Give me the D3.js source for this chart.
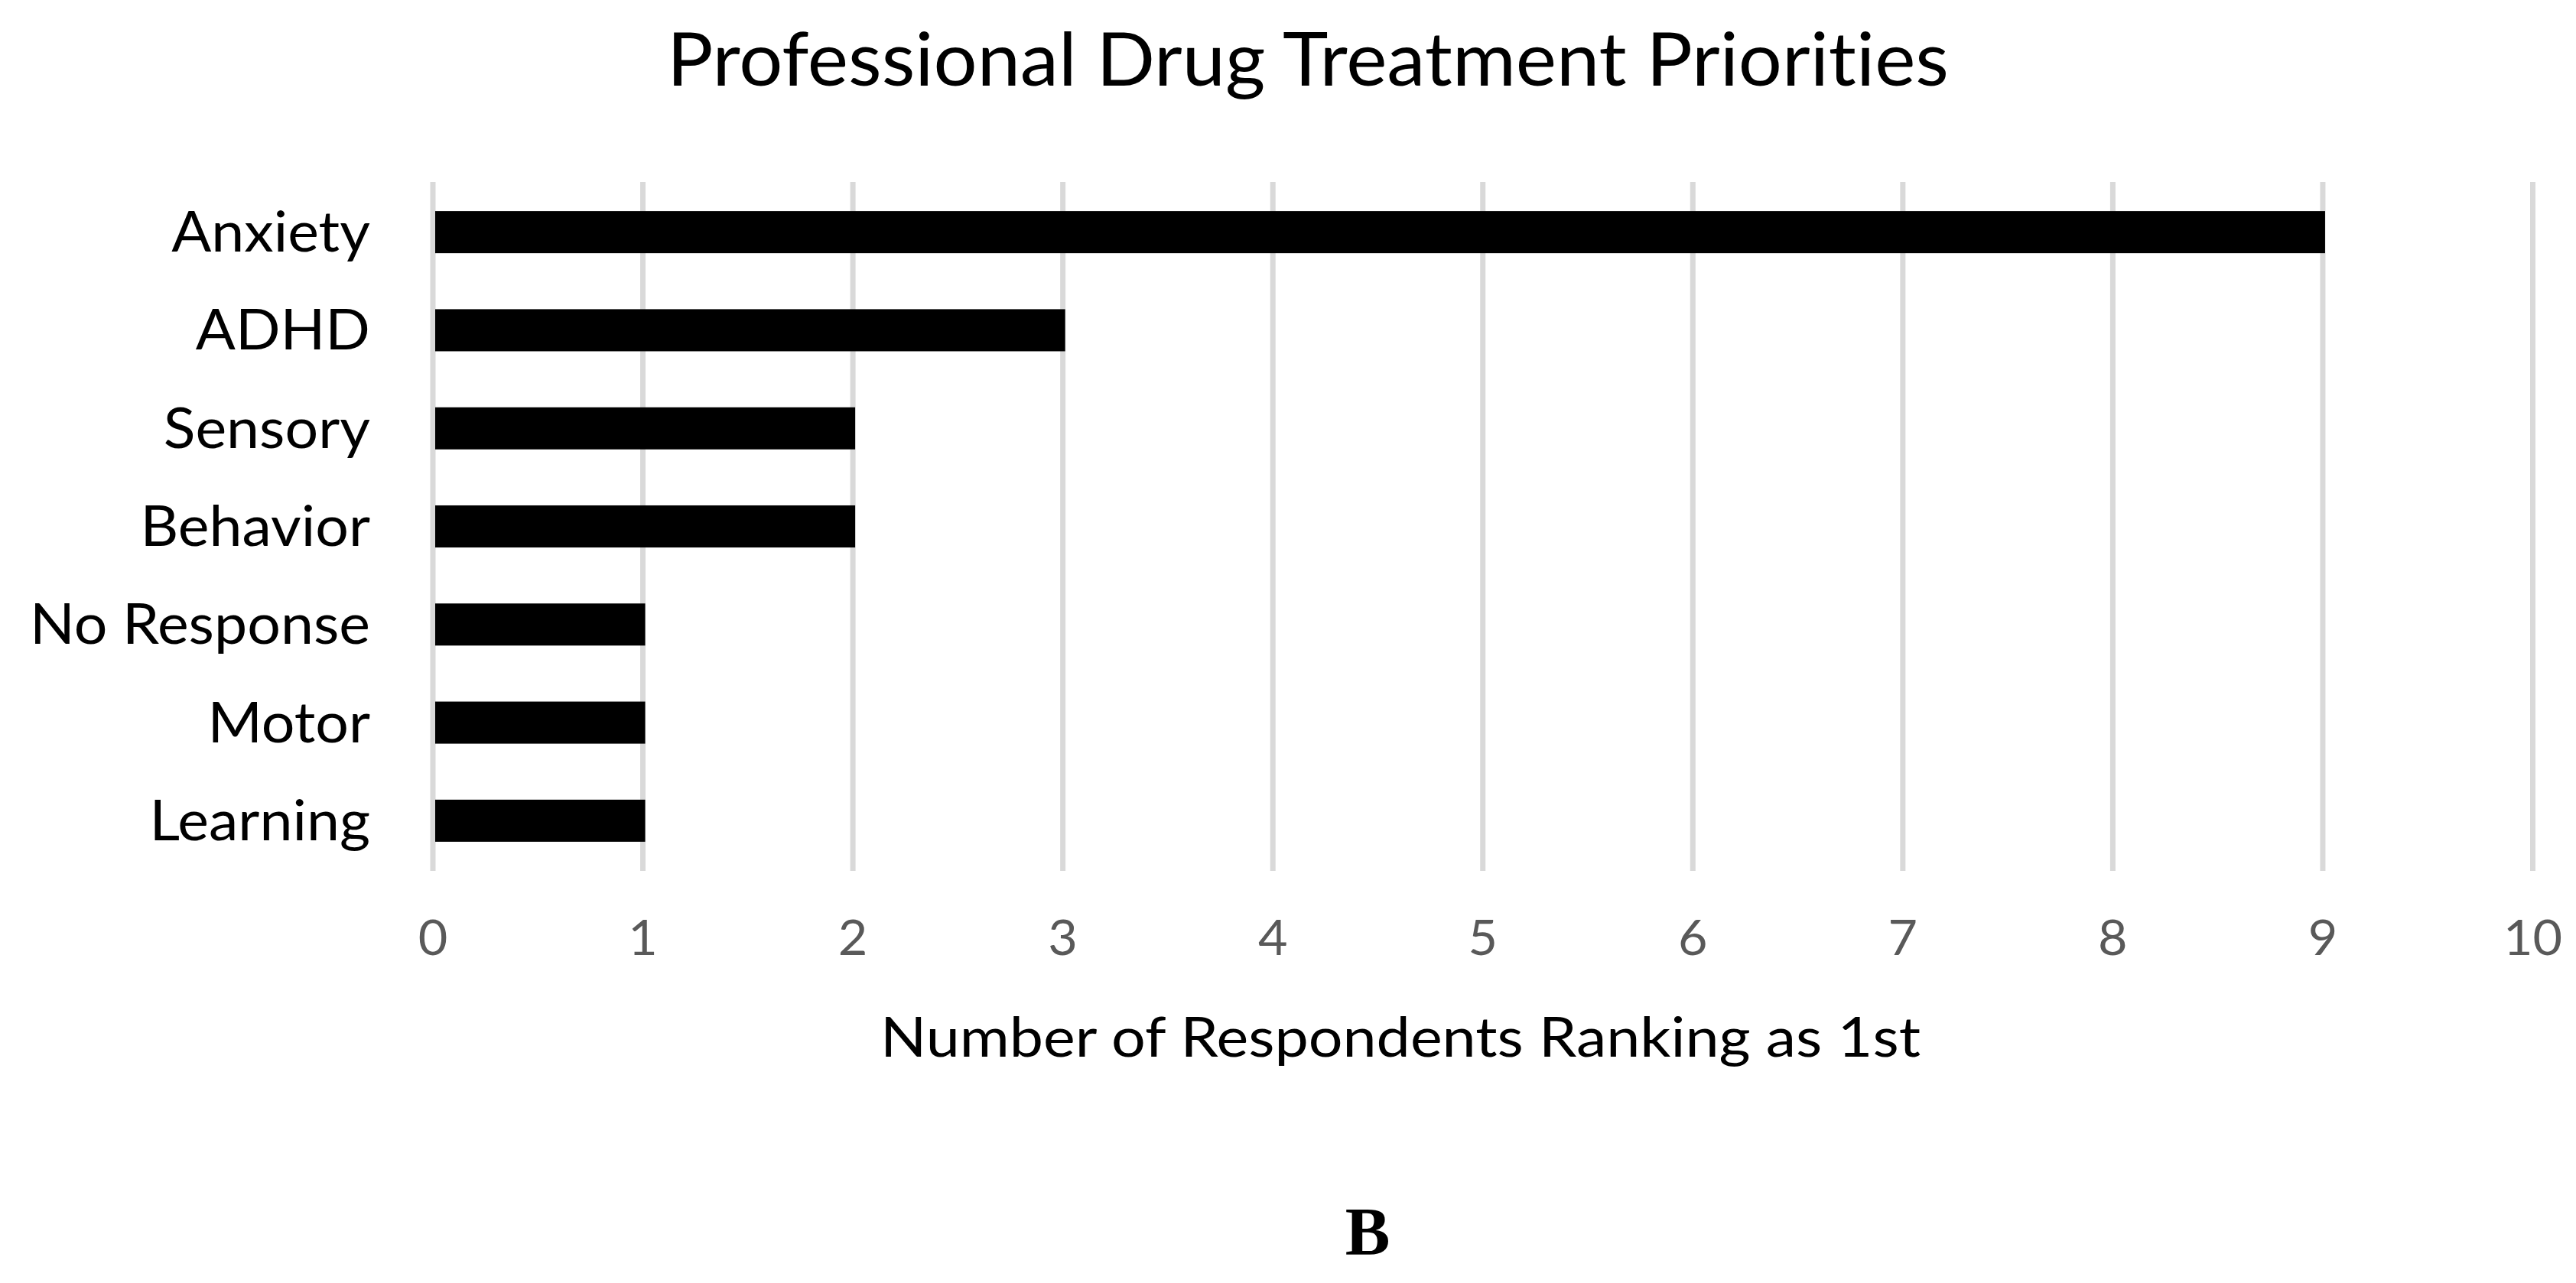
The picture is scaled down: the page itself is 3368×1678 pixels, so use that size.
<!DOCTYPE html>
<html>
<head>
<meta charset="utf-8">
<script src="https://cdn.jsdelivr.net/npm/d3@7"></script>
<style>
  body { margin: 0; background: #fff; }
  svg { display: block; }
  text { font-variant-ligatures: none; font-feature-settings: "liga" 0, "clig" 0; }
</style>
</head>
<body>
<figure id="drugPriorities" style="margin:0"></figure>
<script>
// data
var categories = ["Anxiety", "ADHD", "Sensory", "Behavior", "No Response", "Motor", "Learning"];
var respondents = [9, 3, 2, 2, 1, 1, 1];
var xTicks = [0, 1, 2, 3, 4, 5, 6, 7, 8, 9, 10];
var chartTitle = "Professional Drug Treatment Priorities";
var xTitle = "Number of Respondents Ranking as 1st";
var panelLabel = "B";

function drugPriorities() {
    var W = 3368, H = 1678;
    // plot area in page pixels
    var left = 565.5, right = 3311, top = 238, bottom = 1139;
    var font = "Lato, 'Open Sans', sans-serif";

    var svg = d3.select("figure#drugPriorities")
        .append("svg")
        .attr("width", W)
        .attr("height", H);

    svg.append("rect").attr("width", W).attr("height", H).attr("fill", "#fff");

    var x = d3.scaleLinear()
        .domain([0, 10])
        .range([left, right]);

    var y = d3.scaleBand()
        .domain(categories)
        .range([top, bottom])
        .paddingInner(0.571)
        .paddingOuter(0.297);

    // gridlines + tick labels
    var xAxis = svg.append("g")
        .attr("transform", "translate(0," + bottom + ")")
        .call(d3.axisBottom(x).tickValues(xTicks).tickSize(-(bottom - top)).tickFormat(d3.format("d")));
    xAxis.select(".domain").remove();
    xAxis.selectAll(".tick line")
        .attr("stroke", "#d9d9d9")
        .attr("stroke-width", 7);
    xAxis.selectAll(".tick text")
        .attr("y", 110)
        .attr("dy", null)
        .attr("fill", "#595959")
        .style("font-family", font)
        .style("font-size", "63px");

    // bars
    svg.append("g")
        .selectAll("rect")
        .data(categories)
        .enter().append("rect")
        .attr("x", x(0) + 3.5)
        .attr("y", function(d) { return y(d); })
        .attr("width", function(d, i) { return x(respondents[i]) - x(0); })
        .attr("height", y.bandwidth())
        .attr("fill", "#000");

    // category labels
    var yAxis = svg.append("g")
        .attr("transform", "translate(484,0)")
        .call(d3.axisLeft(y).tickSize(0).tickPadding(0));
    yAxis.select(".domain").remove();
    yAxis.selectAll(".tick text")
        .attr("dy", "0.35em")
        .attr("fill", "#000")
        .style("font-family", font)
        .style("font-size", "73px");

    // squeeze Lato to the narrower look of the original face
    var k = 445 / yAxis.selectAll(".tick text").filter(function(d) { return d === "No Response"; }).node().getComputedTextLength();
    yAxis.selectAll(".tick text").each(function() {
        d3.select(this).attr("textLength", this.getComputedTextLength() * k).attr("lengthAdjust", "spacingAndGlyphs");
    });
    xAxis.selectAll(".tick text").each(function() {
        d3.select(this).attr("textLength", this.getComputedTextLength() * k).attr("lengthAdjust", "spacingAndGlyphs");
    });

    // chart title
    svg.append("text")
        .attr("x", 1710)
        .attr("y", 112)
        .attr("text-anchor", "middle")
        .attr("textLength", 1676)
        .attr("lengthAdjust", "spacingAndGlyphs")
        .style("font-family", font)
        .style("font-size", "96px")
        .attr("fill", "#000")
        .text(chartTitle);

    // x axis title
    svg.append("text")
        .attr("x", 1831)
        .attr("y", 1382)
        .attr("text-anchor", "middle")
        .attr("textLength", 1360)
        .attr("lengthAdjust", "spacingAndGlyphs")
        .style("font-family", font)
        .style("font-size", "71px")
        .attr("fill", "#000")
        .text(xTitle);

    // panel letter
    svg.append("text")
        .attr("x", 1788)
        .attr("y", 1640)
        .attr("text-anchor", "middle")
        .style("font-family", "'Liberation Serif', 'Times New Roman', serif")
        .style("font-weight", "bold")
        .style("font-size", "88px")
        .attr("fill", "#000")
        .text(panelLabel);
}

drugPriorities();
</script>
</body>
</html>
